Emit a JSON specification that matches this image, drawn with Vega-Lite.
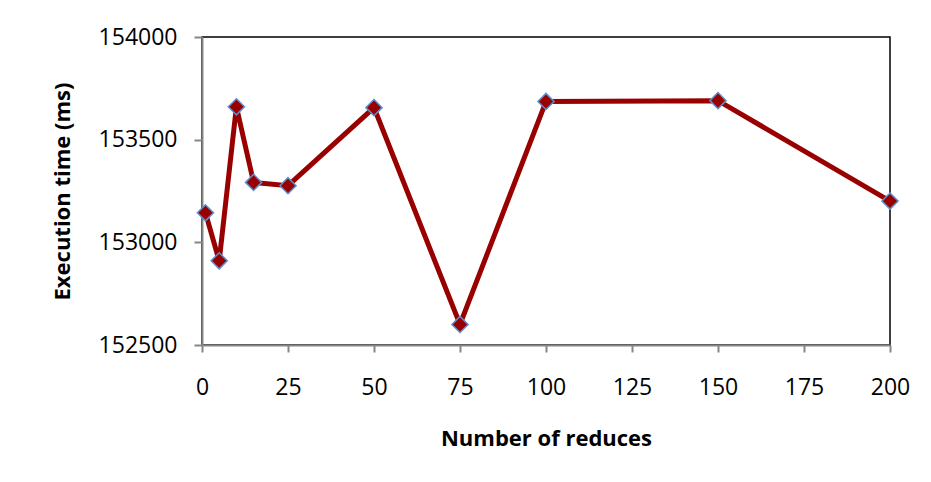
{
  "$schema": "https://vega.github.io/schema/vega-lite/v6.json",
  "width": 688,
  "height": 308,
  "autosize": {"type": "none"},
  "padding": {"left": 202, "top": 37, "right": 41, "bottom": 137},
  "background": "white",
  "config": {
    "view": {"stroke": "#000000", "strokeWidth": 1.5},
    "font": "Open Sans"
  },
  "data": {
    "values": [
      {"reduces": 1, "time": 153144},
      {"reduces": 5, "time": 152910},
      {"reduces": 10, "time": 153660},
      {"reduces": 15, "time": 153292},
      {"reduces": 25, "time": 153276},
      {"reduces": 50, "time": 153656},
      {"reduces": 75, "time": 152600},
      {"reduces": 100, "time": 153686},
      {"reduces": 150, "time": 153690},
      {"reduces": 200, "time": 153201}
    ]
  },
  "encoding": {
    "x": {
      "field": "reduces",
      "type": "quantitative",
      "scale": {"domain": [0, 200], "nice": false, "zero": false},
      "axis": {
        "values": [0, 25, 50, 75, 100, 125, 150, 175, 200],
        "title": "Number of reduces",
        "grid": false,
        "labelFlush": false,
        "labelOverlap": false,
        "domainColor": "#868686",
        "domainWidth": 2,
        "tickColor": "#868686",
        "tickWidth": 2,
        "tickSize": 7,
        "labelFont": "Open Sans",
        "labelFontSize": 23,
        "labelColor": "#000000",
        "labelPadding": 24,
        "titleFont": "Open Sans",
        "titleFontSize": 22,
        "titleFontWeight": "bold",
        "titleColor": "#000000",
        "titlePadding": 29
      }
    },
    "y": {
      "field": "time",
      "type": "quantitative",
      "scale": {"domain": [152500, 154000], "nice": false, "zero": false},
      "axis": {
        "values": [152500, 153000, 153500, 154000],
        "format": "d",
        "title": "Execution time (ms)",
        "grid": false,
        "labelFlush": false,
        "labelOverlap": false,
        "domainColor": "#868686",
        "domainWidth": 2,
        "tickColor": "#868686",
        "tickWidth": 2,
        "tickSize": 8,
        "labelFont": "Open Sans",
        "labelFontSize": 23,
        "labelColor": "#000000",
        "labelPadding": 17,
        "titleFont": "Open Sans",
        "titleFontSize": 22,
        "titleFontWeight": "bold",
        "titleColor": "#000000",
        "titlePadding": 24
      }
    }
  },
  "layer": [
    {
      "mark": {"type": "line", "color": "#990000", "strokeWidth": 5}
    },
    {
      "mark": {
        "type": "point",
        "shape": "diamond",
        "filled": true,
        "fill": "#990000",
        "stroke": "#5b8fcf",
        "strokeWidth": 1.5,
        "size": 260,
        "opacity": 1
      }
    }
  ]
}
